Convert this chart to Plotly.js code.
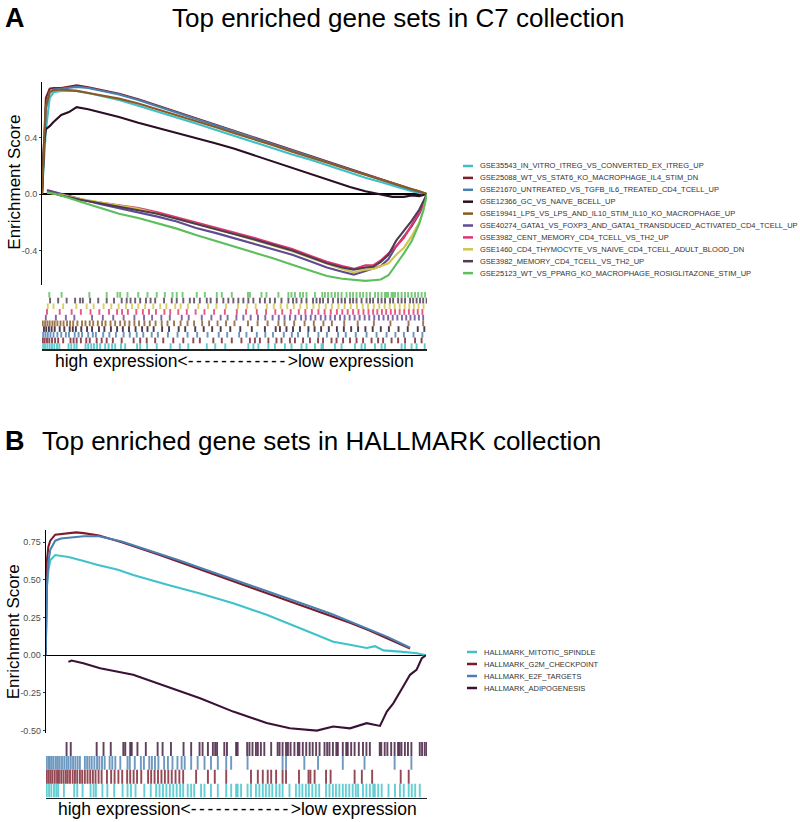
<!DOCTYPE html>
<html><head><meta charset="utf-8">
<script src="https://cdn.plot.ly/plotly-3.0.1.min.js"></script>
<style>html,body{margin:0;padding:0;background:#fff;}#chart{width:800px;height:822px;}</style>
</head><body><div id="chart"></div>
<script>
// ---------- Panel A (C7) ----------
const setsA = [
  "GSE35543_IN_VITRO_ITREG_VS_CONVERTED_EX_ITREG_UP",
  "GSE25088_WT_VS_STAT6_KO_MACROPHAGE_IL4_STIM_DN",
  "GSE21670_UNTREATED_VS_TGFB_IL6_TREATED_CD4_TCELL_UP",
  "GSE12366_GC_VS_NAIVE_BCELL_UP",
  "GSE19941_LPS_VS_LPS_AND_IL10_STIM_IL10_KO_MACROPHAGE_UP",
  "GSE40274_GATA1_VS_FOXP3_AND_GATA1_TRANSDUCED_ACTIVATED_CD4_TCELL_UP",
  "GSE3982_CENT_MEMORY_CD4_TCELL_VS_TH2_UP",
  "GSE1460_CD4_THYMOCYTE_VS_NAIVE_CD4_TCELL_ADULT_BLOOD_DN",
  "GSE3982_MEMORY_CD4_TCELL_VS_TH2_UP",
  "GSE25123_WT_VS_PPARG_KO_MACROPHAGE_ROSIGLITAZONE_STIM_UP"
];
const colorsA = ["#3fbfc8","#7a1f2b","#4a80b0","#2b0f25","#8b5a24","#5f4a94","#e0356f","#d3c54c","#4f3b52","#5cbe5c"];

// running enrichment score, x = position in ranked list (%)
const xA = [0,0.5,1,2,3,5,7,9,12,16,20,25,30,35,40,45,50,55,60,65,70,75,80,84,88,91,94,96,98,99,100];
const esCyanA   = [0,0.2,0.45,0.68,0.72,0.73,0.728,0.73,0.715,0.69,0.665,0.625,0.585,0.545,0.5,0.455,0.41,0.37,0.325,0.28,0.24,0.195,0.15,0.115,0.085,0.06,0.035,0.02,0.008,0.0,0];
const esRedA    = [0,0.4,0.68,0.745,0.75,0.75,0.76,0.77,0.755,0.735,0.71,0.67,0.625,0.58,0.535,0.49,0.445,0.4,0.355,0.31,0.265,0.22,0.175,0.138,0.102,0.075,0.05,0.033,0.018,0.008,0];
const esBlueA   = [0,0.3,0.6,0.72,0.74,0.745,0.75,0.758,0.75,0.73,0.705,0.665,0.62,0.575,0.53,0.485,0.44,0.395,0.35,0.305,0.26,0.215,0.17,0.133,0.098,0.07,0.045,0.03,0.015,0.005,0];
const esBlackA  = [0,0.35,0.46,0.48,0.51,0.56,0.58,0.615,0.6,0.575,0.545,0.505,0.47,0.435,0.4,0.36,0.32,0.275,0.225,0.18,0.135,0.09,0.05,0.02,-0.005,-0.02,-0.02,-0.01,-0.015,-0.01,0];
const esBrownA  = [0,0.35,0.62,0.72,0.735,0.74,0.735,0.73,0.715,0.695,0.675,0.64,0.6,0.56,0.515,0.475,0.43,0.39,0.345,0.3,0.26,0.215,0.17,0.135,0.1,0.075,0.05,0.035,0.02,0.01,0];
const xAlow = [1.3,5,10,15,20,25,30,35,40,45,50,55,60,65,70,74,78,81,84,86,88,90,92,94,96,98,99,100];
const esPurpleA = [0.028,0,-0.035,-0.07,-0.1,-0.125,-0.16,-0.195,-0.24,-0.275,-0.315,-0.355,-0.39,-0.43,-0.48,-0.52,-0.55,-0.57,-0.545,-0.53,-0.51,-0.46,-0.37,-0.3,-0.23,-0.14,-0.08,0];
const esPinkA   = [0.02,-0.01,-0.04,-0.06,-0.075,-0.1,-0.13,-0.165,-0.2,-0.24,-0.275,-0.31,-0.35,-0.39,-0.44,-0.48,-0.51,-0.53,-0.505,-0.505,-0.47,-0.42,-0.37,-0.31,-0.22,-0.13,-0.07,0];
const esYellowA = [0.01,-0.005,-0.035,-0.06,-0.085,-0.105,-0.14,-0.175,-0.21,-0.25,-0.285,-0.325,-0.365,-0.405,-0.455,-0.495,-0.53,-0.555,-0.535,-0.53,-0.51,-0.49,-0.43,-0.38,-0.3,-0.2,-0.12,0];
const esGreyA   = [0.02,-0.01,-0.04,-0.065,-0.085,-0.11,-0.14,-0.175,-0.21,-0.245,-0.28,-0.32,-0.36,-0.4,-0.45,-0.49,-0.52,-0.535,-0.52,-0.515,-0.48,-0.43,-0.33,-0.26,-0.19,-0.11,-0.06,0];
const esGreenA  = [0.015,-0.01,-0.055,-0.1,-0.14,-0.17,-0.205,-0.245,-0.29,-0.33,-0.37,-0.41,-0.455,-0.5,-0.545,-0.58,-0.6,-0.605,-0.615,-0.61,-0.605,-0.575,-0.5,-0.42,-0.335,-0.21,-0.12,0];

// gene hit positions (%)
const hitsCyanA = [0.3,0.8,1.4,2.0,2.6,3.2,3.9,4.5,6.9,7.6,8.4,9.0,11.3,12.0,12.8,13.5,14.3,15.1,16.4,17.3,18.2,19.0,20.5,21.6,24.7,25.5,27.3,29.8,33.4,35.8,38.0,42.8,45.0,47.6,53.6,54.9,56.2,58.8,60.5,63.1,64.8,67.4,68.7,70.9,72.6,73.0,76.1,77.8,81.3,83.0,83.9,86.5,88.2,89.1,93.4,94.3,96.0,97.3,99.4];
const hitsRedA = [0.2,0.7,1.3,1.9,2.6,3.4,4.2,5.5,7.4,8.2,9.0,10.1,11.5,12.4,14.2,15.5,16.8,18.4,20.7,23.8,25.5,27.2,29.4,31.5,34.1,36.7,39.3,41.0,44.5,46.7,49.3,51.8,54.0,55.3,56.6,58.8,60.9,62.2,64.4,65.7,67.8,69.6,71.7,73.0,75.2,76.5,78.2,80.0,81.7,83.4,85.6,87.3,88.6,90.8,92.5,94.3,96.9,98.6];
const hitsBlueA = [0.3,0.9,1.5,2.2,3.0,4.0,5.0,6.2,7.0,8.5,9.5,10.4,12.0,13.2,14.0,15.9,17.5,19.2,21.2,22.8,24.6,26.3,28.5,30.1,32.7,35.2,37.8,40.3,43.0,45.9,48.1,51.2,53.1,55.8,58.0,60.0,62.8,64.9,66.5,69.1,71.8,74.0,76.9,78.9,81.5,84.3,86.9,89.5,91.8,94.0,96.5,98.8];
const hitsBlackA = [0.5,1.1,1.8,2.5,3.3,4.6,5.8,7.2,8.0,8.8,10.2,11.7,13.0,14.8,16.2,17.9,19.5,21.0,22.6,24.3,26.0,27.4,29.0,31.2,33.0,35.5,37.2,39.8,42.0,44.2,46.4,48.9,51.5,54.5,57.9,60.7,61.8,63.5,65.2,67.0,69.2,70.8,72.5,74.5,76.6,78.4,80.3,82.1,84.0,85.9,88.0,90.1,92.6,95.0,97.6,99.3];
const hitsBrownA = [0.2,0.8,1.4,2.0,2.7,3.3,4.0,4.8,5.6,6.5,7.3,8.1,9.2,10.4,11.3,12.4,13.3,14.5,15.6,16.5,17.8,19.0,20.3,21.5,22.7,24.0,25.2,26.6,28.0,29.5,31.1,32.6,34.3,36.0,37.8,39.5,41.6,43.4,45.6,47.8,50.0,53.5,56.0,58.6,61.4,63.0,65.5,68.2,70.6,73.1,75.3,78.5,82.0,86.2,90.5,95.2,99.0];
const hitsPurpleA = [1.0,3.6,6.2,8.4,13.0,15.8,18.5,21.2,24.0,26.5,28.6,31.0,33.2,36.3,38.1,41.5,44.0,46.4,48.2,50.5,52.3,54.2,56.1,58.0,59.9,61.5,63.0,64.4,65.8,67.3,68.5,69.8,71.0,72.4,73.6,74.9,76.1,77.4,78.6,79.9,81.2,82.5,83.8,85.0,86.3,87.5,88.7,89.9,91.1,92.3,93.5,94.6,95.7,96.8,97.9,99.0];
const hitsPinkA = [1.3,4.6,7.7,10.1,12.6,14.9,17.4,19.5,20.8,22.3,24.5,26.2,27.8,29.6,31.8,33.3,35.4,37.6,39.9,42.2,44.7,47.5,50.6,53.0,55.8,58.2,60.6,62.4,64.6,66.7,68.4,70.1,71.8,73.4,75.0,76.6,78.0,79.4,80.8,82.2,83.5,84.8,86.0,87.1,88.3,89.4,90.6,91.7,92.9,94.1,95.3,96.5,97.6,98.8];
const hitsYellowA = [1.5,3.0,5.5,8.9,11.6,13.4,16.0,18.0,19.9,21.8,23.4,25.0,26.8,28.9,30.7,32.3,34.6,36.0,37.9,40.6,43.1,45.3,47.8,50.9,53.3,55.5,58.4,60.2,62.0,63.7,65.4,67.1,68.8,70.5,72.0,73.7,75.3,77.0,78.6,80.2,81.8,83.3,84.7,86.2,87.6,89.0,90.3,91.6,92.9,94.2,95.4,96.6,97.8,99.1];
const hitsGreyA = [2.1,4.2,6.4,8.6,9.9,10.6,12.5,14.6,16.8,18.7,20.7,22.0,23.0,24.2,25.5,27.0,28.2,29.4,31.7,33.7,35.0,36.7,38.4,39.5,41.0,42.8,43.8,45.4,47.1,48.4,49.7,51.0,52.3,53.6,54.9,56.6,57.9,59.2,60.5,62.2,64.0,65.2,66.1,67.4,68.7,70.4,71.3,72.2,73.0,74.3,75.6,76.9,77.8,78.7,80.0,80.8,81.7,83.0,84.3,85.2,86.0,87.3,88.2,89.1,90.4,91.2,92.5,93.4,94.3,95.6,96.4,97.3,98.2,99.0,99.9];
const hitsGreenA = [1.9,5.1,12.3,16.8,19.6,20.3,22.2,25.0,27.4,29.8,31.9,33.9,35.0,36.5,40.2,42.3,45.4,46.7,49.3,53.5,54.0,57.0,58.3,61.4,64.0,64.8,65.7,67.0,67.8,68.7,70.9,72.8,73.5,74.3,75.2,76.1,76.9,77.8,79.1,80.0,80.8,81.7,82.6,83.4,84.3,85.2,86.5,87.3,88.2,89.1,89.5,89.9,90.8,91.2,91.7,92.5,93.4,94.3,95.1,96.0,96.9,97.7,98.6,99.5];

const yTickValsA = [-0.4, 0.0, 0.4];
const yTickTextA = ["-0.4", "0.0", "0.4"];

// ---------- Panel B (HALLMARK) ----------
const setsB = ["HALLMARK_MITOTIC_SPINDLE","HALLMARK_G2M_CHECKPOINT","HALLMARK_E2F_TARGETS","HALLMARK_ADIPOGENESIS"];
const colorsB = ["#3fc2c9","#7b1c2a","#4a7fb2","#3a1236"];

const xB = [0,0.3,0.7,1.2,2.5,4,6,8,10,12,14,20,25,30,35,40,45,50,55,60,65,70,75,80,85,90,95.8];
const esRedB  = [0,0.62,0.72,0.76,0.8,0.805,0.81,0.815,0.81,0.8,0.795,0.75,0.71,0.665,0.62,0.575,0.53,0.49,0.445,0.4,0.355,0.31,0.265,0.215,0.165,0.11,0.045];
const esBlueB = [0,0.45,0.62,0.7,0.76,0.775,0.78,0.785,0.79,0.79,0.79,0.755,0.715,0.675,0.63,0.585,0.54,0.5,0.455,0.41,0.365,0.32,0.275,0.225,0.175,0.12,0.05];
const xCyanB  = [0,0.3,0.7,1.2,2.5,4,6,10,13.5,19,23,32,40.6,49.3,58.1,66.9,71.3,75.6,80,84.4,86.6,88.8,93.2,97.6,100];
const esCyanB = [0,0.45,0.56,0.63,0.665,0.66,0.652,0.625,0.6,0.567,0.533,0.467,0.41,0.345,0.268,0.179,0.135,0.09,0.069,0.048,0.06,0.032,0.024,0.013,0];
const xAdipoB = [5.96,6.8,9.9,14.3,23.0,31.8,40.6,49.3,58.1,64.2,71.3,75.6,80.0,84.4,87.9,89.7,91.4,94.0,95.8,97.5,98.9,100];
const esAdipoB = [-0.044,-0.035,-0.053,-0.086,-0.13,-0.208,-0.285,-0.374,-0.45,-0.485,-0.5,-0.473,-0.485,-0.451,-0.469,-0.374,-0.319,-0.208,-0.13,-0.097,-0.02,0];

const hitsCyanB = [0.2,0.8,1.4,2.1,2.7,3.2,4.7,7.4,8.2,9.6,11.7,12.5,13.1,14.8,16.1,17.9,20.1,21.4,22.3,23.5,25.8,27.5,28.9,29.8,30.7,31.6,32.5,33.4,34.3,35.2,36.0,37.2,38.1,38.9,40.7,41.6,43.3,45.1,47.3,48.6,49.9,50.3,51.2,52.9,53.8,55.1,56.0,56.9,57.7,58.6,59.4,60.4,61.3,62.1,63.9,65.6,66.5,67.3,68.2,69.0,69.9,70.8,71.7,73.5,74.4,75.3,76.1,77.0,77.9,78.7,79.6,80.5,81.3,81.9,83.2,84.1,85.0,85.9,86.3,87.2,88.1,89.9,91.6,92.9,93.9,95.2,96.0,96.9,98.1];
const hitsRedB = [0.2,0.7,1.2,1.7,2.3,2.9,3.4,4.0,4.6,5.2,5.7,6.3,7.0,7.6,8.2,8.9,9.5,10.2,10.9,11.6,12.3,13.0,13.8,14.6,16.0,17.1,18.0,19.0,20.0,21.3,22.1,23.0,23.9,25.0,26.8,27.6,28.5,29.4,30.3,31.2,32.1,33.0,34.0,35.0,36.0,39.4,42.5,44.3,47.3,53.8,55.6,56.9,58.2,59.1,60.4,62.1,63.0,66.4,68.9,69.4,70.5,73.5,74.7,81.0,82.9,85.6,93.1,95.2];
const hitsBlueB = [0.1,0.6,1.0,1.5,2.0,2.6,3.1,3.6,4.2,4.8,5.4,5.9,6.5,7.1,7.7,8.3,8.9,10.2,10.8,11.4,12.0,12.7,13.4,14.0,14.7,15.4,16.7,17.4,18.2,19.5,21.4,22.0,23.3,24.9,25.7,27.1,27.8,28.6,29.5,31.0,32.0,33.2,34.5,35.6,36.4,38.1,39.8,41.6,43.3,45.1,47.3,48.6,52.9,62.1,63.0,67.8,71.4,77.9,83.6,91.5,95.9];
const hitsAdipoB = [5.4,6.5,13.3,15.1,17.0,20.3,20.8,22.1,22.5,24.0,26.2,29.3,30.6,32.8,36.1,38.1,40.3,41.1,42.5,43.8,44.4,44.9,46.8,47.5,49.9,50.3,52.8,53.4,54.2,55.1,55.6,56.4,57.3,59.1,60.8,61.3,62.1,63.0,63.5,64.2,65.2,66.1,66.5,67.4,68.3,69.2,70.0,70.9,71.8,73.1,73.8,74.4,75.3,76.2,76.6,77.9,78.8,79.2,80.1,81.0,82.1,83.2,84.1,85.0,87.6,88.0,88.9,89.6,90.6,91.5,92.4,92.8,93.3,94.2,95.0,95.9,98.1,98.7,99.4,99.9];

const yTickValsB = [-0.5,-0.25,0,0.25,0.5,0.75];
const yTickTextB = ["-0.50","-0.25","0.00","0.25","0.50","0.75"];

// ---------- build ----------
const W = 800, H = 822;
const px = p => p / W;
const py = p => 1 - p / H;
const FONT = "Liberation Sans, Arial, Helvetica, sans-serif";

const curvesA = [
  [xA, esCyanA],[xA, esRedA],[xA, esBlueA],[xA, esBlackA],[xA, esBrownA],
  [xAlow, esPurpleA],[xAlow, esPinkA],[xAlow, esYellowA],[xAlow, esGreyA],[xAlow, esGreenA]
];
const hitsA = [hitsCyanA,hitsRedA,hitsBlueA,hitsBlackA,hitsBrownA,hitsPurpleA,hitsPinkA,hitsYellowA,hitsGreyA,hitsGreenA];
const curvesB = [[xCyanB, esCyanB],[xB, esRedB],[xB, esBlueB],[xAdipoB, esAdipoB]];
const hitsB = [hitsCyanB, hitsRedB, hitsBlueB, hitsAdipoB];

const traces = [];
curvesA.forEach((c, i) => traces.push({
  type:'scatter', mode:'lines', x:c[0], y:c[1], xaxis:'x', yaxis:'y', name:setsA[i],
  line:{color:colorsA[i], width:2.1}, showlegend:false, hoverinfo:'skip'
}));
hitsA.forEach((h, i) => traces.push({
  type:'bar', x:h, y:h.map(() => 1), base:i, width:0.5, xaxis:'x2', yaxis:'y2',
  marker:{color:colorsA[i], opacity:0.82, line:{width:0}}, showlegend:false, hoverinfo:'skip'
}));
curvesB.forEach((c, i) => traces.push({
  type:'scatter', mode:'lines', x:c[0], y:c[1], xaxis:'x3', yaxis:'y3', name:setsB[i],
  line:{color:colorsB[i], width:2.1}, showlegend:false, hoverinfo:'skip'
}));
hitsB.forEach((h, i) => traces.push({
  type:'bar', x:h, y:h.map(() => 1), base:i, width:0.5, xaxis:'x4', yaxis:'y4',
  marker:{color:colorsB[i], opacity:0.8, line:{width:0}}, showlegend:false, hoverinfo:'skip'
}));

const hidden = {visible:false, showgrid:false, zeroline:false, range:[0,100], fixedrange:true};
const yStyle = {
  showline:true, linecolor:'#000', linewidth:1, ticks:'outside', ticklen:2, tickcolor:'#333',
  tickfont:{size:9, color:'#4d4d4d', family:FONT}, showgrid:false,
  zeroline:true, zerolinecolor:'#000', zerolinewidth:1.2
};

const annotations = [];
const shapes = [];
const ann = (x, y, text, size, opts) => annotations.push(Object.assign({
  xref:'paper', yref:'paper', x:px(x), y:py(y), text:text, showarrow:false,
  font:{size:size, color:'#000', family:FONT}, xanchor:'center', yanchor:'middle'
}, opts || {}));

ann(3, 18, '<b>A</b>', 27, {xanchor:'left'});
ann(170, 18, 'Top enriched gene sets in C7 collection', 26, {xanchor:'left'});
ann(3, 441, '<b>B</b>', 27, {xanchor:'left'});
ann(40, 441, 'Top enriched gene sets in HALLMARK collection', 26, {xanchor:'left'});
ann(13.7, 182, 'Enrichment Score', 17, {textangle:-90});
ann(13.3, 632, 'Enrichment Score', 17, {textangle:-90});
const dashes = '<span style="letter-spacing:2.5px">------------</span>';
ann(234, 361, 'high expression&lt;' + dashes + '&gt;low expression', 17.5);
ann(237, 809, 'high expression&lt;' + dashes + '&gt;low expression', 17.5);

setsA.forEach((s, i) => {
  const y = 166 + i * 11.9;
  shapes.push({type:'line', xref:'paper', yref:'paper', x0:px(463), x1:px(473), y0:py(y), y1:py(y), line:{color:colorsA[i], width:2.5}});
  ann(478, y, s, 7.5, {xanchor:'left', font:{size:7.5, color:'#333', family:FONT}});
});
setsB.forEach((s, i) => {
  const y = 652 + i * 12;
  shapes.push({type:'line', xref:'paper', yref:'paper', x0:px(467), x1:px(477), y0:py(y), y1:py(y), line:{color:colorsB[i], width:2.5}});
  ann(482, y, s, 7.5, {xanchor:'left', font:{size:7.5, color:'#333', family:FONT}});
});

const layout = {
  width:W, height:H, margin:{l:0,r:0,t:0,b:0}, paper_bgcolor:'#fff', plot_bgcolor:'rgba(0,0,0,0)',
  showlegend:false, barmode:'overlay', font:{family:FONT},
  xaxis: Object.assign({}, hidden, {domain:[px(42), px(427)], anchor:'y'}),
  yaxis: Object.assign({}, yStyle, {domain:[py(285), py(81.7)], range:[-0.644, 0.795], tickvals:yTickValsA, ticktext:yTickTextA, anchor:'x'}),
  xaxis2: {domain:[px(42), px(427)], range:[0,100], anchor:'y2', showline:true, linecolor:'#222', linewidth:1.5,
           showticklabels:false, ticks:'', showgrid:false, zeroline:false, fixedrange:true},
  yaxis2: {domain:[py(349), py(292)], range:[0,10], visible:false, anchor:'x2', showgrid:false, zeroline:false},
  xaxis3: Object.assign({}, hidden, {domain:[px(45.7), px(426)], anchor:'y3'}),
  yaxis3: Object.assign({}, yStyle, {domain:[py(733), py(530)], range:[-0.516, 0.831], tickvals:yTickValsB, ticktext:yTickTextB, anchor:'x3'}),
  xaxis4: {domain:[px(46), px(427)], range:[0,100], anchor:'y4', showline:true, linecolor:'#222', linewidth:1.5,
           showticklabels:false, ticks:'', showgrid:false, zeroline:false, fixedrange:true},
  yaxis4: {domain:[py(797.5), py(742)], range:[0,4], visible:false, anchor:'x4', showgrid:false, zeroline:false},
  annotations:annotations, shapes:shapes
};

Plotly.newPlot('chart', traces, layout, {staticPlot:true, displayModeBar:false});
</script></body></html>
